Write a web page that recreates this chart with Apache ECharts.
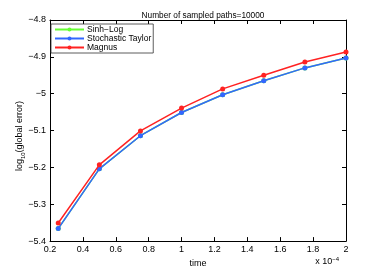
<!DOCTYPE html>
<html><head><meta charset="utf-8">
<script src="https://cdn.jsdelivr.net/npm/echarts@6/dist/echarts.min.js"></script>
<style>html,body{margin:0;padding:0;background:#fff}#c{width:382px;height:273px}</style>
</head><body><div id="c"></div>
<script>
var timeVals = [0.25, 0.5, 0.75, 1.0, 1.25, 1.5, 1.75, 2.0];
var sinhLog = [-5.366, -5.204, -5.114, -5.051, -5.003, -4.965, -4.930, -4.903];
var stochTaylor = [-5.366, -5.204, -5.114, -5.051, -5.003, -4.965, -4.930, -4.903];
var magnus = [-5.351, -5.193, -5.101, -5.039, -4.987, -4.950, -4.914, -4.887];
var seriesNames = ['Sinh\u2212Log', 'Stochastic Taylor', 'Magnus'];
var seriesColors = ['#66ff33', '#3366ff', '#ff2222'];
var titleText = 'Number of sampled paths=10000';

function pairs(v){ return timeVals.map(function(t,i){ return [t, v[i]]; }); }
var FONT = 'Liberation Sans, Arial, sans-serif';
var chart = echarts.init(document.getElementById('c'));
var data = [sinhLog, stochTaylor, magnus];
var series = data.map(function(v, i){
  return {
    name: seriesNames[i], type: 'line', data: pairs(v),
    symbol: 'circle', symbolSize: 5, showSymbol: true,
    lineStyle: {width: 1.5, color: seriesColors[i]},
    itemStyle: {color: seriesColors[i]},
    animation: false, z: 2 + i
  };
});
function fmt(v){ return String(Math.round(v*10)/10).replace('-', '\u2212'); }
var axisCommon = {
  axisLine: {show: true, onZero: false, lineStyle: {color: '#000', width: 1}},
  axisTick: {show: true, inside: true, length: 4, lineStyle: {color: '#000'}},
  splitLine: {show: false}
};
chart.setOption({
  animation: false,
  title: {text: titleText, left: 198, top: 7, textAlign: 'center',
    textStyle: {fontFamily: FONT, fontSize: 8.3, fontWeight: 'normal', color: '#000'}},
  legend: {
    left: 51, top: 24, orient: 'vertical', itemGap: 0, itemWidth: 29, itemHeight: 5,
    padding: [1, 2, 1, 3], borderColor: '#333', borderWidth: 0.8, backgroundColor: '#fff',
    lineStyle: {width: 2},
    textStyle: {fontFamily: FONT, fontSize: 8.5, lineHeight: 9, color: '#000', padding: [0,0,0,-2]},
    data: seriesNames
  },
  grid: {left: 50, right: 36, top: 20, bottom: 31},
  xAxis: [Object.assign({
    type: 'value', min: 0.2, max: 2, interval: 0.2, position: 'bottom',
    axisLabel: {fontFamily: FONT, fontSize: 9, color: '#000', margin: 4,
      formatter: function(v){ return fmt(v); }},
    name: 'time', nameLocation: 'middle', nameGap: 15,
    nameTextStyle: {fontFamily: FONT, fontSize: 9, color: '#000'}
  }, axisCommon),
  Object.assign({type: 'value', min: 0.2, max: 2, interval: 0.2, position: 'top',
    axisLabel: {show: false}}, axisCommon)],
  yAxis: [Object.assign({
    type: 'value', min: -5.4, max: -4.8, interval: 0.1, position: 'left',
    axisLabel: {fontFamily: FONT, fontSize: 9, color: '#000', margin: 4,
      formatter: function(v){ return fmt(v); }}
  }, axisCommon),
  Object.assign({type: 'value', min: -5.4, max: -4.8, interval: 0.1, position: 'right',
    axisLabel: {show: false}}, axisCommon)],
  graphic: [
    {type: 'text', x: 20, y: 136, rotation: Math.PI/2, z: 10,
      style: {text: '{a|log}{s|10}{a|(global error)}', align: 'center', verticalAlign: 'middle',
        rich: {a: {fontFamily: FONT, fontSize: 9, color: '#000', lineHeight: 12, verticalAlign: 'middle'},
               s: {fontFamily: FONT, fontSize: 6, color: '#000', lineHeight: 12, verticalAlign: 'bottom'}}}},
    {type: 'text', x: 339, y: 262, z: 10,
      style: {text: '{a|x 10}{s|\u22124}', align: 'right', verticalAlign: 'middle',
        rich: {a: {fontFamily: FONT, fontSize: 9, color: '#000', lineHeight: 12, verticalAlign: 'middle'},
               s: {fontFamily: FONT, fontSize: 6, color: '#000', lineHeight: 12, verticalAlign: 'top'}}}}
  ],
  series: series
});
</script></body></html>
